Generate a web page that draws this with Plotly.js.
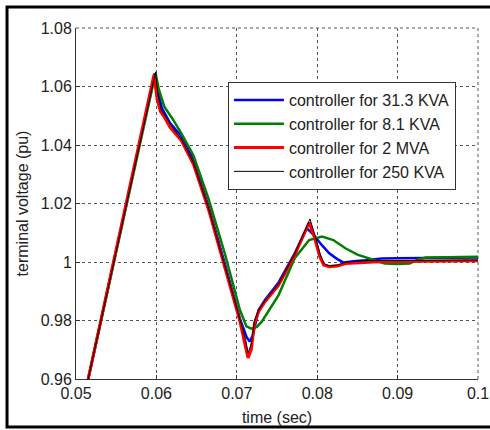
<!DOCTYPE html>
<html>
<head>
<meta charset="utf-8">
<script src="https://cdn.plot.ly/plotly-3.0.1.min.js"></script>
<style>html,body{margin:0;padding:0;background:#fff;}#chart{width:490px;height:430px;}</style>
</head>
<body>
<div id="chart"></div>
<script>
// Series names
const seriesNames = ['controller for 31.3 KVA', 'controller for 8.1 KVA', 'controller for 2 MVA', 'controller for 250 KVA'];

// controller for 31.3 KVA (blue)
const tBlue = [0.0510, 0.0598, 0.0602, 0.0607, 0.0617, 0.0631, 0.0646, 0.0665, 0.0685, 0.0704, 0.0712, 0.0716, 0.0720, 0.0727, 0.0735, 0.0752, 0.0772, 0.0787, 0.0795, 0.0805, 0.0815, 0.0825, 0.0833, 0.0845, 0.0860, 0.0880, 0.0900, 0.0920, 0.0950, 0.0980, 0.1000];
const vBlue = [0.9535, 1.0645, 1.0580, 1.0525, 1.0475, 1.0430, 1.0350, 1.0190, 0.9995, 0.9805, 0.9745, 0.9728, 0.9750, 0.9835, 0.9870, 0.9930, 1.0030, 1.0115, 1.0095, 1.0060, 1.0030, 1.0010, 0.9998, 1.0003, 1.0006, 1.0012, 1.0013, 1.0013, 1.0014, 1.0014, 1.0015];

// controller for 8.1 KVA (green)
const tGreen = [0.0510, 0.0599, 0.0603, 0.0610, 0.0620, 0.0631, 0.0646, 0.0665, 0.0685, 0.0704, 0.0712, 0.0718, 0.0725, 0.0731, 0.0752, 0.0772, 0.0790, 0.0806, 0.0820, 0.0835, 0.0850, 0.0864, 0.0875, 0.0884, 0.0900, 0.0915, 0.0925, 0.0935, 0.0960, 0.1000];
const vGreen = [0.9535, 1.0645, 1.0590, 1.0530, 1.0490, 1.0440, 1.0365, 1.0215, 1.0030, 0.9835, 0.9780, 0.9772, 0.9778, 0.9796, 0.9887, 1.0013, 1.0075, 1.0087, 1.0075, 1.0047, 1.0025, 1.0012, 1.0002, 0.9995, 0.9993, 0.9995, 1.0008, 1.0015, 1.0016, 1.0018];

// controller for 2 MVA (red)
const tRed = [0.0510, 0.0597, 0.0601, 0.0605, 0.0610, 0.0617, 0.0631, 0.0646, 0.0665, 0.0685, 0.0704, 0.0710, 0.0714, 0.0718, 0.0722, 0.0727, 0.0735, 0.0752, 0.0772, 0.0790, 0.0797, 0.0803, 0.0808, 0.0815, 0.0825, 0.0835, 0.0850, 0.0870, 0.0900, 0.0950, 0.1000];
const vRed = [0.9535, 1.0640, 1.0555, 1.0515, 1.0495, 1.0460, 1.0415, 1.0335, 1.0178, 0.9985, 0.9796, 0.9720, 0.9672, 0.9700, 0.9790, 0.9830, 0.9864, 0.9921, 1.0024, 1.0135, 1.0080, 1.0020, 0.9990, 0.9984, 0.9986, 0.9995, 0.9998, 1.0000, 1.0002, 1.0003, 1.0004];

// controller for 250 KVA (black)
const tBlack = [0.0510, 0.0599, 0.0602, 0.0606, 0.0612, 0.0620, 0.0631, 0.0646, 0.0665, 0.0685, 0.0704, 0.0711, 0.0714, 0.0718, 0.0722, 0.0727, 0.0735, 0.0752, 0.0772, 0.0791, 0.0798, 0.0804, 0.0809, 0.0815, 0.0825, 0.0835, 0.0850, 0.0870, 0.0900, 0.0950, 0.1000];
const vBlack = [0.9535, 1.0650, 1.0570, 1.0520, 1.0495, 1.0460, 1.0420, 1.0340, 1.0182, 0.9990, 0.9800, 0.9735, 0.9690, 0.9720, 0.9800, 0.9835, 0.9868, 0.9925, 1.0028, 1.0147, 1.0085, 1.0025, 0.9993, 0.9988, 0.9990, 0.9998, 1.0003, 1.0005, 1.0005, 1.0006, 1.0007];

// Axis ticks
const xTickVals = [0.05, 0.06, 0.07, 0.08, 0.09, 0.1];
const xTickText = ['0.05', '0.06', '0.07', '0.08', '0.09', '0.1'];
const yTickVals = [0.96, 0.98, 1.0, 1.02, 1.04, 1.06, 1.08];
const yTickText = ['0.96', '0.98', '1', '1.02', '1.04', '1.06', '1.08'];

const FONT = 'Liberation Sans, Arial, sans-serif';

const traces = [
  {x: tBlue, y: vBlue, name: seriesNames[0], mode: 'lines', line: {color: '#0000ff', width: 2.5}},
  {x: tGreen, y: vGreen, name: seriesNames[1], mode: 'lines', line: {color: '#008000', width: 2.5}},
  {x: tRed, y: vRed, name: seriesNames[2], mode: 'lines', line: {color: '#ff0000', width: 3}},
  {x: tBlack, y: vBlack, name: seriesNames[3], mode: 'lines', line: {color: '#000000', width: 1}}
];

const gridDash = '3px,3px';

const layout = {
  width: 490, height: 430,
  margin: {l: 76, r: 12, t: 28, b: 51},
  paper_bgcolor: '#ffffff', plot_bgcolor: '#ffffff',
  font: {family: FONT, size: 16, color: '#222'},
  showlegend: true,
  legend: {
    x: 0.378, y: 0.846, xanchor: 'left', yanchor: 'top',
    bgcolor: '#ffffff', bordercolor: '#333', borderwidth: 1,
    font: {family: FONT, size: 16, color: '#222'},
    itemwidth: 50, tracegroupgap: 0
  },
  xaxis: {
    range: [0.05, 0.1], tickvals: xTickVals, ticktext: xTickText,
    showgrid: true, gridcolor: '#555', griddash: gridDash, gridwidth: 1,
    showline: true, linecolor: '#333', linewidth: 1, mirror: false,
    ticks: 'inside', ticklen: 4, tickcolor: '#333', zeroline: false,
    tickfont: {family: FONT, size: 16, color: '#222'},
    title: {text: 'time (sec)', font: {family: FONT, size: 16, color: '#222'}, standoff: 10}
  },
  yaxis: {
    range: [0.96, 1.08], tickvals: yTickVals, ticktext: yTickText,
    showgrid: true, gridcolor: '#555', griddash: gridDash, gridwidth: 1,
    showline: true, linecolor: '#333', linewidth: 1, mirror: false,
    ticks: 'inside', ticklen: 4, tickcolor: '#333', zeroline: false,
    tickfont: {family: FONT, size: 16, color: '#222'},
    title: {text: 'terminal voltage (pu)', font: {family: FONT, size: 16, color: '#222'}, standoff: 8}
  },
  shapes: [
    {type: 'rect', xref: 'paper', yref: 'paper', x0: -0.1716, x1: 1.2, y0: -0.1368, y1: 1.0598,
     line: {color: '#000', width: 3}, fillcolor: 'rgba(0,0,0,0)', layer: 'below'},
    {type: 'line', xref: 'paper', yref: 'paper', x0: 0, x1: 1, y0: 1, y1: 1,
     line: {color: '#555', width: 1, dash: gridDash}, layer: 'below'},
    {type: 'line', xref: 'paper', yref: 'paper', x0: 1, x1: 1, y0: 0, y1: 1,
     line: {color: '#555', width: 1, dash: gridDash}, layer: 'below'}
  ]
};

Plotly.newPlot('chart', traces, layout, {displayModeBar: false, staticPlot: true});
</script>
</body>
</html>
